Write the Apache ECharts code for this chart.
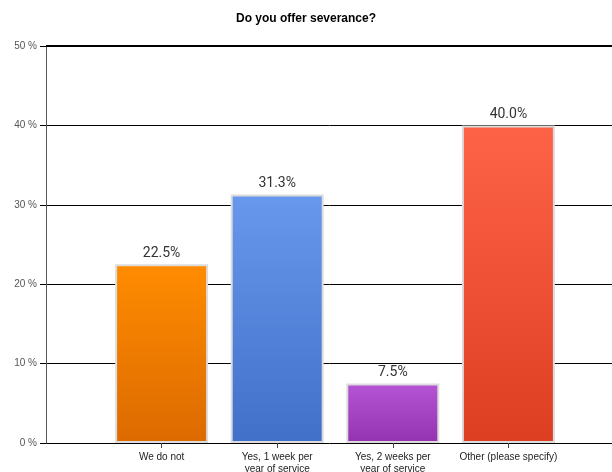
<!DOCTYPE html>
<html>
<head>
<meta charset="utf-8">
<script src="https://cdn.jsdelivr.net/npm/echarts@6/dist/echarts.min.js"></script>
<style>html,body{margin:0;padding:0;background:#fff}#c{width:612px;height:472px}</style>
</head>
<body>
<div id="c"></div>
<script>
const categories = ['We do not', 'Yes, 1 week per\nyear of service', 'Yes, 2 weeks per\nyear of service', 'Other (please specify)'];
const values = [22.5, 31.3, 7.5, 40.0];
const topColors = ['#FF8C00', '#6897EE', '#B555D5', '#FF6347'];
const bottomColors = ['#DC6A00', '#4170C8', '#9333B0', '#DC3E22'];
const yTicks = [0, 10, 20, 30, 40, 50];

const axisData = [''].concat(categories, ['']);
const seriesData = [null].concat(values.map((v, i) => ({
  value: v,
  itemStyle: {
    color: new echarts.graphic.LinearGradient(0, 0, 0, 1, [
      { offset: 0, color: topColors[i] },
      { offset: 1, color: bottomColors[i] }
    ])
  }
})), [null]);

const chart = echarts.init(document.getElementById('c'), null, { renderer: 'canvas' });
chart.setOption({
  animation: false,
  backgroundColor: '#fff',
  title: {
    text: 'Do you offer severance?',
    left: 'center',
    top: 8,
    textStyle: { fontFamily: 'Liberation Sans, Arial, sans-serif', fontSize: 12, fontWeight: 'bold', color: '#000' }
  },
  grid: { left: 46, top: 46, bottom: 29, width: 578, containLabel: false, outerBoundsMode: 'none' },
  xAxis: {
    type: 'category',
    data: axisData,
    boundaryGap: false,
    axisLine: { show: false },
    axisTick: { show: true, length: 5, lineStyle: { color: '#444' }, interval: (i) => i > 0 && i < axisData.length - 1 },
    axisLabel: {
      interval: 0, margin: 8, fontSize: 10, lineHeight: 12, color: '#222',
      fontFamily: 'Liberation Sans, Arial, sans-serif'
    },
    splitLine: { show: false }
  },
  yAxis: {
    type: 'value',
    min: yTicks[0], max: yTicks[yTicks.length - 1], interval: 10,
    axisLine: { show: true, lineStyle: { color: '#555', width: 1 } },
    axisTick: { show: true, length: 6, lineStyle: { color: '#000' } },
    axisLabel: { formatter: '{value} %', margin: 9, fontSize: 10, color: '#555', fontFamily: 'Liberation Sans, Arial, sans-serif' },
    splitLine: { show: true, lineStyle: { color: '#000', width: 1 } }
  },
  series: [{
    type: 'bar',
    data: seriesData,
    barWidth: 93,
    itemStyle: { borderColor: '#dcdcdc', borderWidth: 2 },
    label: {
      show: true, position: 'top', distance: 4,
      formatter: (p) => p.value.toFixed(1) + '%',
      fontSize: 14, color: '#333', fontFamily: 'Roboto, sans-serif'
    },
    markLine: {
      silent: true, symbol: 'none', label: { show: false },
      lineStyle: { color: '#000', width: 2, type: 'solid' },
      data: [{ yAxis: 50 }]
    }
  }]
});
</script>
</body>
</html>
